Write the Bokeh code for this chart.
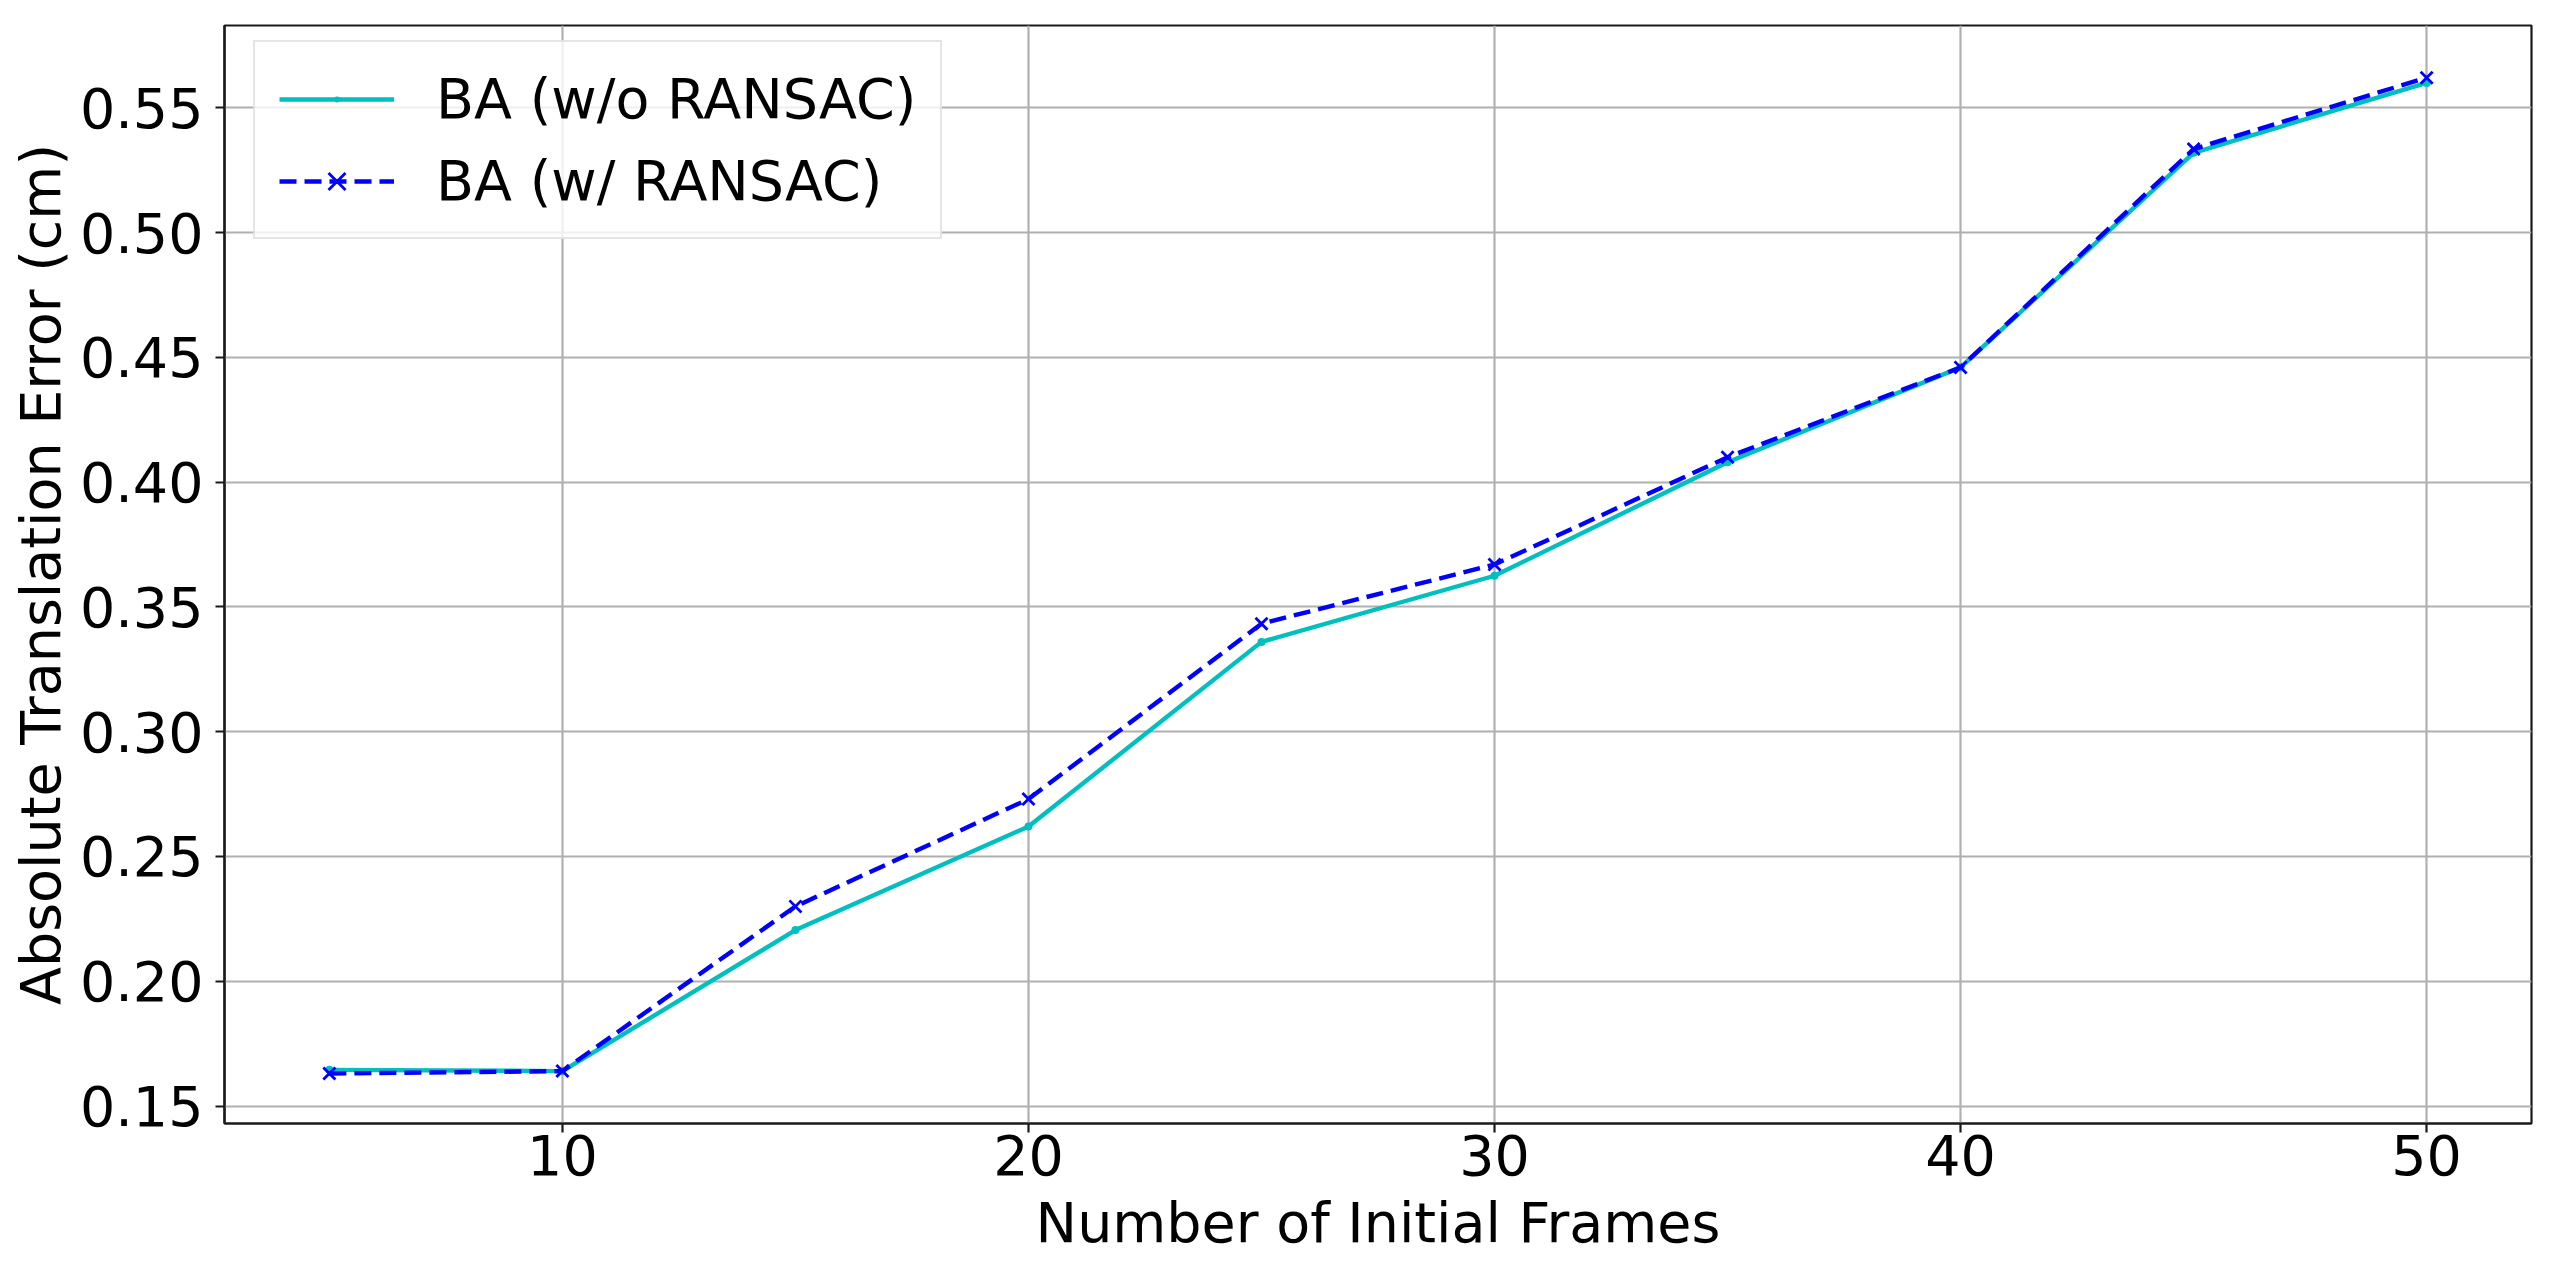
from bokeh.plotting import figure
from bokeh.models import Range1d, FixedTicker, PrintfTickFormatter, Legend, LegendItem
from bokeh.embed import file_html
from bokeh.resources import INLINE

frames = [5, 10, 15, 20, 25, 30, 35, 40, 45, 50]
ba_no_ransac = [0.1645, 0.164, 0.2205, 0.262, 0.336, 0.3625, 0.408, 0.446, 0.532, 0.5600]
ba_ransac = [0.163, 0.164, 0.230, 0.273, 0.3433, 0.367, 0.410, 0.446, 0.5335, 0.5621]
x_ticks = [10, 20, 30, 40, 50]
y_ticks = [0.15, 0.20, 0.25, 0.30, 0.35, 0.40, 0.45, 0.50, 0.55]

FONT = "DejaVu Sans"
FS = "55.5px"

p = figure(width=2552, height=1272, output_backend="svg", toolbar_location=None,
           x_range=Range1d(2.75, 52.25), y_range=Range1d(0.1430, 0.5830),
           min_border_left=224, min_border_top=25, min_border_right=21, min_border_bottom=149)

p.background_fill_color = "white"
p.border_fill_color = "white"
p.outline_line_color = "#1a1a1a"
p.outline_line_width = 2.2

for ax in (p.xaxis[0], p.yaxis[0]):
    ax.major_label_text_font = FONT
    ax.major_label_text_font_size = FS
    ax.major_label_text_color = "black"
    ax.axis_label_text_font = FONT
    ax.axis_label_text_font_size = FS
    ax.axis_label_text_font_style = "normal"
    ax.axis_label_text_color = "black"
    ax.major_tick_in = 0
    ax.major_tick_out = 9
    ax.major_tick_line_width = 2.2
    ax.major_tick_line_color = "#1a1a1a"
    ax.minor_tick_line_color = None
    ax.axis_line_width = 2.2
    ax.axis_line_color = "#1a1a1a"

p.xaxis.ticker = FixedTicker(ticks=x_ticks)
p.yaxis.ticker = FixedTicker(ticks=y_ticks)
p.yaxis.formatter = PrintfTickFormatter(format="%.2f")
p.xaxis.axis_label = "Number of Initial Frames"
p.yaxis.axis_label = "Absolute Translation Error (cm)"
p.xaxis.major_label_standoff = 2
p.xaxis.axis_label_standoff = 12
p.yaxis.major_label_standoff = 12
p.yaxis.axis_label_standoff = 4

p.grid.grid_line_color = "#b0b0b0"
p.grid.grid_line_width = 2.2
p.xgrid.ticker = FixedTicker(ticks=x_ticks)
p.ygrid.ticker = FixedTicker(ticks=y_ticks)

cyan = "#00bfbf"
blue = "#0000ff"

l1 = p.line(frames, ba_no_ransac, line_color=cyan, line_width=4.4)
m1 = p.scatter(frames, ba_no_ransac, marker="dot", size=32, fill_color=cyan, line_color=cyan)
l2 = p.line(frames, ba_ransac, line_color=blue, line_width=4.4, line_dash="17 8")
m2 = p.scatter(frames, ba_ransac, marker="x", size=17, line_color=blue, line_width=2.8)

legend = Legend(items=[
    LegendItem(label="BA (w/o RANSAC)", renderers=[l1, m1]),
    LegendItem(label="BA (w/ RANSAC)", renderers=[l2, m2]),
], location=(29, 884))
legend.margin = 0
legend.padding = 24
legend.spacing = 17
legend.glyph_width = 115
legend.glyph_height = 60
legend.label_height = 60
legend.label_standoff = 42
legend.label_text_font = FONT
legend.label_text_font_size = FS
legend.label_text_color = "black"
legend.border_line_color = "#cccccc"
legend.border_line_width = 2
legend.background_fill_alpha = 0.8
p.add_layout(legend, "center")

open("out.html", "w").write(file_html(p, INLINE))
